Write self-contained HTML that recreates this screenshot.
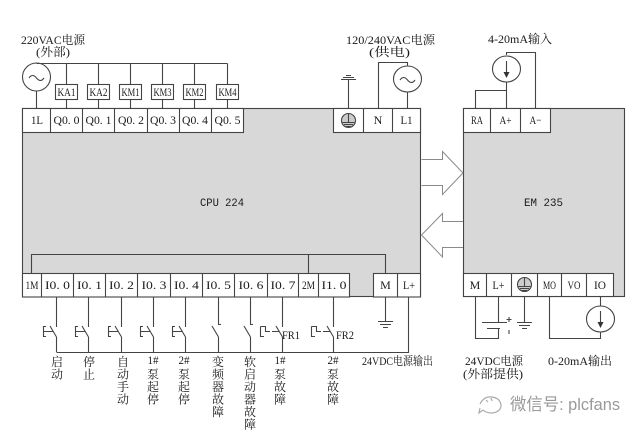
<!DOCTYPE html>
<html><head><meta charset="utf-8"><style>
html,body{margin:0;padding:0;background:#fff;}
svg{display:block;}
.t{font-family:"Liberation Serif","Noto Serif CJK SC",serif;font-size:12px;fill:#1a1a1a;}
.m{font-family:"Liberation Mono",monospace;font-size:11px;fill:#1a1a1a;}
.c{font-family:"Liberation Serif","Noto Serif CJK SC",serif;font-size:12px;fill:#1a1a1a;}
.v{font-family:"Liberation Serif","Noto Serif CJK SC",serif;font-size:12px;fill:#1a1a1a;text-anchor:middle;}
</style></head><body>
<svg width="640" height="434" viewBox="0 0 640 434" xmlns="http://www.w3.org/2000/svg">
<rect width="640" height="434" fill="#fff"/>
<g stroke="#444" stroke-width="1.1" fill="none">
<!-- CPU box -->
<rect x="22.5" y="108.5" width="398" height="188" fill="#d8d8d8"/>
<rect x="22.5" y="108.5" width="221" height="24" fill="#fff"/>
<path d="M50.5 108.5V132.5M82.5 108.5V132.5M114.5 108.5V132.5M147.5 108.5V132.5M179.5 108.5V132.5M211.5 108.5V132.5"/>
<rect x="333.5" y="108.5" width="87" height="24" fill="#fff"/>
<path d="M363.5 108.5V132.5M392.5 108.5V132.5"/>
<rect x="22.5" y="273.5" width="327" height="23.5" fill="#fff"/>
<path d="M41.5 273.5V297M73.5 273.5V297M105.5 273.5V297M137.5 273.5V297M170.5 273.5V297M202.5 273.5V297M234.5 273.5V297M267.5 273.5V297M298.5 273.5V297M318.5 273.5V297"/>
<rect x="373.5" y="273.5" width="47" height="23.5" fill="#fff"/>
<path d="M397.5 273.5V297"/>
<!-- inner bus -->
<path d="M31.5 273.5V254.5H385.5V273.5M308.5 254.5V273.5"/>
<!-- EM box -->
<rect x="463.5" y="108.5" width="161" height="188" fill="#d8d8d8"/>
<rect x="463.5" y="108.5" width="87" height="24" fill="#fff"/>
<path d="M490.5 108.5V132.5M520.5 108.5V132.5"/>
<rect x="463.5" y="273.5" width="150" height="23" fill="#fff"/>
<path d="M486.5 273.5V296.5M511.5 273.5V296.5M537.5 273.5V296.5M561.5 273.5V296.5M586.5 273.5V296.5"/>
</g>
<!-- arrows -->
<g stroke="#8a8a8a" stroke-width="1" fill="#fff">
<path d="M421.5 159.5H442.5V151.5L463 173L442.5 194.5V185.5H421.5"/>
<path d="M463 221.5H442.5V213.5L421.5 235L442.5 257V247.5H463"/>
</g>
<g stroke="#444" stroke-width="1.1" fill="none">
<!-- top-left AC + relays -->
<ellipse cx="36.5" cy="77" rx="14" ry="14" fill="#fff"/>
<path d="M29 78q3.5-5 7.5 0t7.5 0"/>
<path d="M36.5 63.5H227.5M36.5 91V108.5"/>
<path d="M66.5 63.5V84.5M66.5 99.5V108.5M98.5 63.5V84.5M98.5 99.5V108.5M130.5 63.5V84.5M130.5 99.5V108.5M162.5 63.5V84.5M162.5 99.5V108.5M194.5 63.5V84.5M194.5 99.5V108.5M227.5 63.5V84.5M227.5 99.5V108.5"/>
<rect x="55.5" y="84.5" width="22" height="15" fill="#fff"/>
<rect x="87.5" y="84.5" width="22" height="15" fill="#fff"/>
<rect x="119.5" y="84.5" width="22" height="15" fill="#fff"/>
<rect x="151.5" y="84.5" width="22" height="15" fill="#fff"/>
<rect x="183.5" y="84.5" width="22" height="15" fill="#fff"/>
<rect x="216.5" y="84.5" width="22" height="15" fill="#fff"/>
<!-- top-right supply -->
<path d="M378.5 108.5V62.5H407.5V66"/>
<ellipse cx="407.5" cy="79" rx="14" ry="13" fill="#fff"/>
<path d="M400 80q3.5-5 7.5 0t7.5 0"/>
<path d="M407.5 92V108.5"/>
<path d="M348.5 79V108.5M341 79.5H356M343 77.5H354M346 75.5H351"/>
<!-- ground in terminal -->
<circle cx="348.5" cy="120.5" r="7" fill="#ccc"/>
<path d="M348.5 114V122M342.5 122.5H354.5M344 124.5H353M346 126.5H351"/>
<!-- 4-20mA input -->
<path d="M506.5 55V52.5H535.5V108.5"/>
<ellipse cx="506.5" cy="69" rx="14" ry="13" fill="#fff"/>
<path d="M506.5 61V75"/>
<path d="M506.5 82V108.5M506.5 90.5H475.5V108.5"/>
<!-- bottom CPU inputs -->
<path d="M56.5 352.5H408.5V297"/>
<!-- pushbuttons -->
<g><path d="M56.5 297V327M56.5 337V352M56.5 337L50 326M46 331.5H53"/><path d="M46 326.5H43.5V336.5H46M43.5 331.5H46"/></g>
<g transform="translate(32,0)"><path d="M56.5 297V327M56.5 337V352M56.5 337L50 326M46 331.5H53"/><path d="M46 326.5H43.5V336.5H46M43.5 331.5H46"/></g>
<g transform="translate(65,0)"><path d="M56.5 297V327M56.5 337V352M56.5 337L50 326M46 331.5H53"/><path d="M46 326.5H43.5V336.5H46M43.5 331.5H46"/></g>
<g transform="translate(97,0)"><path d="M56.5 297V327M56.5 337V352M56.5 337L50 326M46 331.5H53"/><path d="M46 326.5H43.5V336.5H46M43.5 331.5H46"/></g>
<g transform="translate(129,0)"><path d="M56.5 297V327M56.5 337V352M56.5 337L50 326M46 331.5H53"/><path d="M46 326.5H43.5V336.5H46M43.5 331.5H46"/></g>
<!-- plain switches -->
<path d="M218.5 297V324.5H221M218.5 337V352M218.5 337L212 326"/>
<path d="M250.5 297V324.5H253M250.5 337V352M250.5 337L244 326"/>
<!-- FR1 -->
<path d="M282.5 297V327M282.5 337V352M282.5 337L276 326M272 331.5H279"/>
<path d="M260.5 326.5H265.5V331.5H270M260.5 326.5V336.5H264"/>
<!-- FR2 -->
<path d="M333.5 297V327M333.5 337V352M333.5 337L327 326M323 331.5H330"/>
<path d="M311.5 326.5H316.5V331.5H321M311.5 326.5V336.5H315"/>
<!-- M ground -->
<path d="M385.5 297V321.5M378 321.5H393M380 324.5H391M383 327.5H388"/>
<!-- EM bottom -->
<path d="M475.5 296.5V338.5H498.5V328.5M498.5 296.5V322.5M482 322.5H507M487 328.5H500"/>
<path d="M509 317V322M506.5 319.5H511.5M509 330V334"/>
<path d="M524.5 296.5V322.5M517 322.5H532M519 325.5H530M522 328.5H527"/>
<circle cx="524.5" cy="284.5" r="7" fill="#ccc"/>
<path d="M524.5 278V286M518.5 286.5H530.5M520 288.5H529M522 290.5H527"/>
<path d="M549.5 296.5V338.5H600.5V332M600.5 296.5V306"/>
<ellipse cx="600.5" cy="319" rx="14" ry="13" fill="#fff"/>
<path d="M600.5 311V325"/>
</g>
<path d="M503.5 72L506.5 78L509.5 72Z" fill="#333"/>
<path d="M597.5 322L600.5 328L603.5 322Z" fill="#333"/>
<!-- Top labels -->
<text class="c" x="21" y="44" textLength="64" lengthAdjust="spacingAndGlyphs">220VAC电源</text>
<text class="c" x="36" y="56" textLength="34" lengthAdjust="spacingAndGlyphs">(外部)</text>
<text class="c" x="346" y="44" textLength="89" lengthAdjust="spacingAndGlyphs">120/240VAC电源</text>
<text class="c" x="369" y="56" textLength="41" lengthAdjust="spacingAndGlyphs">(供电)</text>
<text class="c" x="488" y="43" textLength="64" lengthAdjust="spacingAndGlyphs">4-20mA输入</text>
<g class="t" text-anchor="middle">
<text x="66.5" y="96" textLength="18" lengthAdjust="spacingAndGlyphs">KA1</text>
<text x="98.5" y="96" textLength="18" lengthAdjust="spacingAndGlyphs">KA2</text>
<text x="130.5" y="96" textLength="18" lengthAdjust="spacingAndGlyphs">KM1</text>
<text x="162.5" y="96" textLength="18" lengthAdjust="spacingAndGlyphs">KM3</text>
<text x="194.5" y="96" textLength="18" lengthAdjust="spacingAndGlyphs">KM2</text>
<text x="227.5" y="96" textLength="18" lengthAdjust="spacingAndGlyphs">KM4</text>
<text x="37" y="124" textLength="12" lengthAdjust="spacingAndGlyphs">1L</text>
<text x="66.5" y="124" textLength="26" lengthAdjust="spacingAndGlyphs">Q0. 0</text>
<text x="98.5" y="124" textLength="26" lengthAdjust="spacingAndGlyphs">Q0. 1</text>
<text x="131" y="124" textLength="26" lengthAdjust="spacingAndGlyphs">Q0. 2</text>
<text x="163" y="124" textLength="26" lengthAdjust="spacingAndGlyphs">Q0. 3</text>
<text x="195" y="124" textLength="26" lengthAdjust="spacingAndGlyphs">Q0. 4</text>
<text x="227.5" y="124" textLength="26" lengthAdjust="spacingAndGlyphs">Q0. 5</text>
<text x="378" y="124">N</text>
<text x="406.5" y="124" textLength="12" lengthAdjust="spacingAndGlyphs">L1</text>
<text x="32" y="289" textLength="13" lengthAdjust="spacingAndGlyphs">1M</text>
<text x="57.5" y="289" textLength="25" lengthAdjust="spacingAndGlyphs">I0. 0</text>
<text x="89.5" y="289" textLength="25" lengthAdjust="spacingAndGlyphs">I0. 1</text>
<text x="121.5" y="289" textLength="25" lengthAdjust="spacingAndGlyphs">I0. 2</text>
<text x="154" y="289" textLength="25" lengthAdjust="spacingAndGlyphs">I0. 3</text>
<text x="186.5" y="289" textLength="25" lengthAdjust="spacingAndGlyphs">I0. 4</text>
<text x="218.5" y="289" textLength="25" lengthAdjust="spacingAndGlyphs">I0. 5</text>
<text x="251" y="289" textLength="25" lengthAdjust="spacingAndGlyphs">I0. 6</text>
<text x="283" y="289" textLength="25" lengthAdjust="spacingAndGlyphs">I0. 7</text>
<text x="308.5" y="289" textLength="13" lengthAdjust="spacingAndGlyphs">2M</text>
<text x="334" y="289" textLength="25" lengthAdjust="spacingAndGlyphs">I1. 0</text>
<text x="385.5" y="289">M</text>
<text x="409" y="289" textLength="12" lengthAdjust="spacingAndGlyphs">L+</text>
<text x="477" y="124" textLength="12" lengthAdjust="spacingAndGlyphs">RA</text>
<text x="505.5" y="124" textLength="12" lengthAdjust="spacingAndGlyphs">A+</text>
<text x="535.5" y="124" textLength="12" lengthAdjust="spacingAndGlyphs">A−</text>
<text x="475" y="289">M</text>
<text x="498.5" y="289" textLength="12" lengthAdjust="spacingAndGlyphs">L+</text>
<text x="549.5" y="289" textLength="13" lengthAdjust="spacingAndGlyphs">MO</text>
<text x="574" y="289" textLength="13" lengthAdjust="spacingAndGlyphs">VO</text>
<text x="600" y="289" textLength="12" lengthAdjust="spacingAndGlyphs">IO</text>
<text x="291" y="339" textLength="18" lengthAdjust="spacingAndGlyphs">FR1</text>
<text x="345" y="339" textLength="18" lengthAdjust="spacingAndGlyphs">FR2</text>
</g>
<g class="m" text-anchor="middle">
<text x="222" y="206" textLength="44" lengthAdjust="spacingAndGlyphs">CPU 224</text>
<text x="543.5" y="206" textLength="39" lengthAdjust="spacingAndGlyphs">EM 235</text>
</g>
<text class="c" x="362" y="365" textLength="71" lengthAdjust="spacingAndGlyphs">24VDC电源输出</text>
<text class="c" x="465" y="365" textLength="58" lengthAdjust="spacingAndGlyphs">24VDC电源</text>
<text class="c" x="463" y="378" textLength="60" lengthAdjust="spacingAndGlyphs">(外部提供)</text>
<text class="c" x="548" y="365" textLength="64" lengthAdjust="spacingAndGlyphs">0-20mA输出</text>
<g class="v">
<text x="57" y="366">启</text><text x="57" y="378.5">动</text>
<text x="89" y="366">停</text><text x="89" y="378.5">止</text>
<text x="123" y="366">自</text><text x="123" y="378.5">动</text><text x="123" y="391">手</text><text x="123" y="403.5">动</text>
<text x="153" y="364" textLength="11" lengthAdjust="spacingAndGlyphs">1#</text><text x="153" y="378.5">泵</text><text x="153" y="391">起</text><text x="153" y="403.5">停</text>
<text x="184" y="364" textLength="11" lengthAdjust="spacingAndGlyphs">2#</text><text x="184" y="378.5">泵</text><text x="184" y="391">起</text><text x="184" y="403.5">停</text>
<text x="218" y="366">变</text><text x="218" y="378.5">频</text><text x="218" y="391">器</text><text x="218" y="403.5">故</text><text x="218" y="416">障</text>
<text x="250" y="366">软</text><text x="250" y="378.5">启</text><text x="250" y="391">动</text><text x="250" y="403.5">器</text><text x="250" y="416">故</text><text x="250" y="428.5">障</text>
<text x="280" y="364" textLength="11" lengthAdjust="spacingAndGlyphs">1#</text><text x="280" y="378.5">泵</text><text x="280" y="391">故</text><text x="280" y="403.5">障</text>
<text x="333" y="364" textLength="11" lengthAdjust="spacingAndGlyphs">2#</text><text x="333" y="378.5">泵</text><text x="333" y="391">故</text><text x="333" y="403.5">障</text>
</g>
<g stroke="#aaa" stroke-width="1.2" fill="none">
<path d="M480 404q4-8 12-7q8 1 9 8q0 7-9 8q-6 0-9-3l-4 3l1-5"/>
<path d="M486 400l2 2M491 398l1 3"/>
</g>
<text x="510" y="410" font-family="'Liberation Sans','Noto Sans CJK SC',sans-serif" font-size="17" fill="#999" textLength="110" lengthAdjust="spacingAndGlyphs">微信号: plcfans</text>
</svg>
</body></html>
